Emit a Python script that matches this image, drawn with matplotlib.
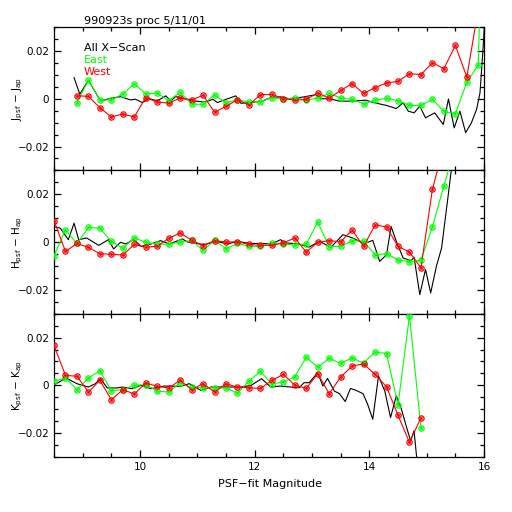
import numpy as np
import matplotlib
matplotlib.use("Agg")
import matplotlib.pyplot as plt
from matplotlib.ticker import MultipleLocator, FixedLocator

# binned colour series: 0.2 mag bins
mag_j = np.round(np.arange(8.9, 16.0, 0.2), 1)
mag_hk = np.round(np.arange(8.5, 15.0, 0.2), 1)
mag_h_east = np.round(np.arange(8.5, 15.6, 0.2), 1)
mag_h_west = np.round(np.arange(8.5, 15.4, 0.2), 1)

j_west = [0.00125, 0.001, -0.00375, -0.0076, -0.0064, -0.0076, 0.0005, -0.0014, -0.0018,
          0.0003, -0.0004, 0.0014, -0.0056, -0.0032, -0.0004, -0.0026, 0.0017, 0.0018,
          0.0001, -0.0006, -0.0003, 0.0024, 0.0002, 0.0035, 0.0063, 0.0022, 0.0047,
          0.0066, 0.0073, 0.0105, 0.0101, 0.0151, 0.0126, 0.0223, 0.0091, 0.0375]
j_east = [-0.0016, 0.0078, -0.0005, -0.0005, 0.002, 0.0063, 0.002, 0.0024, -0.0008,
          0.0027, -0.0022, -0.0024, 0.0016, -0.0017, -0.0005, -0.0013, -0.0012, 0.0005,
          -0.0003, 0.0005, -0.0006, 0.0003, 0.0022, 0.0003, -0.0002, -0.0022, -0.0006,
          0.0002, -0.0008, -0.0028, -0.0028, -0.0002, -0.0053, -0.0063, 0.0069, 0.0142]
j_east_tail = 0.2  # 16.1 bin, far off scale

h_west = [0.009, -0.0039, -0.0006, -0.0022, -0.0049, -0.0051, -0.0054, -0.001, -0.0022,
          -0.0017, 0.0015, 0.0038, 0.0008, -0.0015, 0.0006, 0.0, 0.0001, -0.001, -0.0014,
          -0.0014, -0.0003, 0.0017, -0.0042, -0.0001, 0.0006, 0.0001, 0.005, -0.0018,
          0.0072, 0.0063, -0.0018, -0.0042, -0.0108, 0.0221, 0.04]
h_east = [-0.0057, 0.0051, -0.0006, 0.0061, 0.0058, 0.0003, -0.0026, 0.0018, -0.0001,
          -0.001, -0.0008, -0.0001, 0.0007, -0.0035, 0.0007, -0.0028, -0.0006, -0.0018,
          -0.0018, -0.0004, -0.0007, -0.0013, -0.0008, 0.0083, -0.0019, -0.0018, 0.0006,
          0.0003, -0.0053, -0.0049, -0.0074, -0.0083, -0.0076, 0.0063, 0.0235, 0.04]

k_west = [0.0167, 0.0042, 0.0038, -0.0028, 0.0021, -0.006, -0.0018, -0.0036, 0.001,
          -0.0004, -0.0011, 0.0021, -0.0018, 0.0007, -0.0028, 0.0007, -0.0008, -0.001,
          -0.0013, 0.0021, 0.0046, 0.0001, -0.0013, 0.0049, -0.0035, 0.0035, 0.0081,
          0.009, 0.0046, -0.0006, -0.0125, -0.0239, -0.0136]
k_east = [0.0017, 0.0031, -0.0018, 0.0031, 0.0061, -0.0022, -0.0018, 0.0, 0.0003,
          -0.0024, -0.0028, 0.001, -0.0008, -0.001, -0.0011, -0.0011, -0.0032, 0.0018,
          0.0058, 0.0006, 0.0014, 0.0036, 0.0118, 0.0076, 0.0113, 0.0092, 0.0115, 0.0093,
          0.014, 0.0133, -0.0083, 0.0292, -0.0178]

# all cross-scan, finer bins (read vertex by vertex)
j_all_mag = [8.85, 8.95, 9.10, 9.31, 9.48, 9.66, 9.83, 9.92, 10.04, 10.16, 10.30, 10.45,
             10.54, 10.62, 10.74, 10.89, 11.15, 11.27, 11.35, 11.47, 11.67, 11.76, 11.94,
             12.14, 12.28, 12.45, 12.63, 12.86, 13.07, 13.16, 13.30, 13.48, 13.68, 13.94,
             14.09, 14.30, 14.47, 14.59, 14.68, 14.78, 14.88, 14.98, 15.14, 15.29, 15.38,
             15.48, 15.58, 15.68, 15.78, 15.87, 15.93, 15.97, 16.02]
j_all = [0.0088, 0.0019, 0.0078, -0.0009, 0.0001, 0.0009, -0.0005, -0.0002, -0.0016,
         0.0001, -0.0009, 0.0012, -0.0009, 0.0009, 0.0003, -0.0009, -0.0013, -0.0002,
         -0.0016, -0.0005, 0.0012, -0.0019, -0.0016, -0.0009, 0.0005, 0.0008, -0.0001,
         0.0008, 0.0017, 0.0, 0.0, -0.001, -0.001, -0.0006, -0.0017, -0.0028, -0.0041,
         -0.0017, -0.0052, -0.0059, -0.0031, -0.008, -0.0059, -0.0108, -0.0001, -0.0122,
         -0.0052, -0.0142, -0.0101, -0.0045, 0.0024, 0.0163, 0.035]

h_all_mag = [8.50, 8.61, 8.75, 8.85, 8.93, 9.07, 9.28, 9.45, 9.54, 9.66, 9.75, 9.89,
             10.02, 10.19, 10.36, 10.51, 10.74, 10.83, 11.12, 11.33, 11.53, 11.70, 11.91,
             12.12, 12.30, 12.45, 12.54, 12.75, 12.95, 13.13, 13.33, 13.54, 13.71, 13.86,
             13.97, 14.06, 14.18, 14.30, 14.38, 14.47, 14.59, 14.73, 14.78, 14.88, 14.98,
             15.07, 15.17, 15.26, 15.38, 15.48]
h_all = [0.0065, 0.0058, 0.001, 0.0079, 0.001, 0.0017, -0.0014, 0.001, -0.0029, -0.0001,
         -0.0008, 0.001, -0.0018, -0.0008, 0.0006, -0.0008, 0.0013, 0.0, -0.0011, 0.0003,
         -0.0008, 0.0003, -0.0006, -0.0006, -0.0008, 0.001, -0.0004, -0.0007, -0.0021,
         0.0003, -0.0022, 0.0031, 0.0017, -0.0001, -0.0001, 0.0007, -0.0081, -0.0053,
         0.0065, 0.0003, -0.0067, -0.0078, -0.0063, -0.022, -0.0115, -0.0213, -0.0101,
         -0.0025, 0.0204, 0.04]

k_all_mag = [8.51, 8.71, 8.90, 9.10, 9.22, 9.31, 9.43, 9.60, 9.69, 9.86, 10.01, 10.19,
             10.42, 10.71, 10.86, 11.06, 11.24, 11.41, 11.62, 11.76, 11.94, 12.12, 12.28,
             12.45, 12.63, 12.78, 12.86, 12.95, 13.10, 13.19, 13.27, 13.39, 13.48, 13.58,
             13.67, 13.77, 13.89, 13.97, 14.06, 14.16, 14.27, 14.37, 14.47, 14.56, 14.65,
             14.72, 14.78, 14.82, 14.84]
k_all = [0.0003, 0.0031, 0.0007, -0.0007, 0.0007, 0.0028, -0.0011, -0.0011, -0.0007,
         -0.0014, 0.0, -0.0014, -0.0003, -0.0004, 0.0007, -0.0021, -0.0007, -0.0007,
         -0.0007, -0.0007, 0.0, 0.0028, -0.0007, -0.0003, -0.0007, -0.001, 0.0011, 0.0011,
         0.0053, -0.0003, 0.0029, -0.0024, -0.0035, -0.0068, -0.0013, -0.0021, -0.0035,
         -0.0079, -0.0142, 0.0039, -0.0024, -0.0135, -0.0044, -0.01, -0.0176, -0.0232,
         -0.019, -0.0288, -0.032]

ylabels = [r"J$_{\rm psf}$ $-$ J$_{\rm ap}$", r"H$_{\rm psf}$ $-$ H$_{\rm ap}$",
           r"K$_{\rm psf}$ $-$ K$_{\rm ap}$"]

GREEN = "#00ff00"
RED = "#ff0000"

plt.rcParams["font.family"] = "DejaVu Sans"
plt.rcParams["font.size"] = 7.5

fig = plt.figure(figsize=(5.12, 5.12), dpi=100)
left, width = 54 / 512, 430 / 512
h = 143.3 / 512
bottom0 = 1 - 457 / 512
axes = [fig.add_axes([left, bottom0 + (2 - i) * h, width, h]) for i in range(3)]


def series(ax, x, y, color):
    ax.plot(x, y, color=color, lw=0.8, marker="o", ms=3.8, mfc="none", mec=color,
            mew=0.9, zorder=3)
    ax.plot(x, y, ls="none", marker="s", ms=1.0, color=color, zorder=4)


black_data = [(j_all_mag, j_all), (h_all_mag, h_all), (k_all_mag, k_all)]
green_data = [(list(mag_j) + [16.1], j_east + [j_east_tail]), (mag_h_east, h_east),
              (mag_hk, k_east)]
red_data = [(mag_j, j_west), (mag_h_west, h_west), (mag_hk, k_west)]

for i, ax in enumerate(axes):
    ax.plot(black_data[i][0], black_data[i][1], color="black", lw=0.8, zorder=2)
    series(ax, green_data[i][0], green_data[i][1], GREEN)
    series(ax, red_data[i][0], red_data[i][1], RED)

    ax.set_xlim(8.5, 16)
    ax.set_ylim(-0.03, 0.03)
    ax.xaxis.set_major_locator(MultipleLocator(2))
    ax.xaxis.set_minor_locator(MultipleLocator(0.5))
    ax.yaxis.set_major_locator(FixedLocator([-0.02, 0, 0.02]))
    ax.yaxis.set_minor_locator(MultipleLocator(0.005))
    ax.set_yticklabels(["\u22120.02", "0", "0.02"])
    ax.tick_params(which="both", direction="in", top=True, right=True, width=0.9)
    ax.tick_params(which="major", length=5)
    ax.tick_params(which="minor", length=2.6)
    for s in ax.spines.values():
        s.set_linewidth(0.9)
    if i < 2:
        ax.tick_params(labelbottom=False)
    fig.text(18 / 512, bottom0 + (2 - i) * h + h / 2, ylabels[i], rotation=90,
             ha="center", va="center", fontsize=7.5)

axes[2].set_xticks([10, 12, 14, 16])
axes[2].set_xticklabels(["10", "12", "14", "16"])
fig.text(0.527, 1 - 484 / 512, "PSF\u2212fit Magnitude", ha="center", va="center",
         fontsize=8)

ax0 = axes[0]
ax0.text(0.07, 1.045, "990923s proc 5/11/01", transform=ax0.transAxes, ha="left",
         va="center", fontsize=8)
ax0.text(0.07, 0.851, "All X\u2212Scan", transform=ax0.transAxes, color="black",
         ha="left", va="center", fontsize=8)
ax0.text(0.07, 0.77, "East", transform=ax0.transAxes, color=GREEN, ha="left",
         va="center", fontsize=8)
ax0.text(0.07, 0.688, "West", transform=ax0.transAxes, color=RED, ha="left",
         va="center", fontsize=8)

fig.savefig("out.png", dpi=100)
